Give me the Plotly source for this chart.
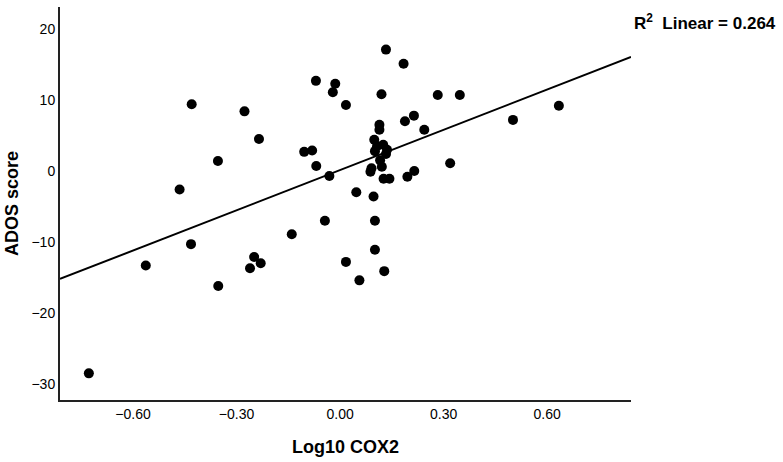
import plotly.graph_objects as go
import numpy as np

# Data (Log10 COX2 vs ADOS score)
log10_cox2 = [
    -0.728, -0.563, -0.465, -0.430, -0.432, -0.354, -0.353, -0.277, -0.235,
    -0.249, -0.261, -0.230, -0.140, -0.104, -0.081, -0.070, -0.069, -0.044,
    -0.031, -0.021, -0.014, 0.017, 0.017, 0.047, 0.056, 0.097, 0.101, 0.101,
    0.128, 0.114, 0.114, 0.120, 0.133, 0.184, 0.188, 0.214, 0.244, 0.283,
    0.347, 0.319, 0.501, 0.634, 0.099, 0.107, 0.125, 0.136, 0.101, 0.133,
    0.116, 0.091, 0.088, 0.121, 0.126, 0.143, 0.195, 0.215,
]
ados_score = [
    -28.5, -13.3, -2.6, 9.4, -10.3, 1.4, -16.2, 8.4, 4.5,
    -12.1, -13.7, -13.0, -8.9, 2.7, 2.9, 12.7, 0.7, -7.0,
    -0.7, 11.1, 12.3, 9.3, -12.8, -3.0, -15.4, -3.6, -7.0, -11.1,
    -14.1, 6.5, 5.8, 10.8, 17.1, 15.1, 7.0, 7.8, 5.8, 10.7,
    10.7, 1.1, 7.2, 9.2, 4.4, 3.5, 3.7, 3.0, 2.8, 2.4,
    1.5, 0.4, -0.1, 0.6, -1.1, -1.1, -0.8, 0.0,
]

# Linear fit line
fit_intercept = 0.14
fit_slope = 18.9
r2_label = "R<sup>2</sup>  Linear = 0.264"

x_range = [-0.8116, 0.843]
y_range = [-32.25, 23.1]
x_ticks = [-0.60, -0.30, 0.00, 0.30, 0.60]
y_ticks = [-30, -20, -10, 0, 10, 20]

line_x = np.array(x_range)
line_y = fit_intercept + fit_slope * line_x

FONT = "Liberation Sans, Arial, sans-serif"

fig = go.Figure()
fig.add_trace(go.Scatter(
    x=line_x, y=line_y, mode="lines",
    line=dict(color="black", width=2), hoverinfo="skip", showlegend=False,
))
fig.add_trace(go.Scatter(
    x=log10_cox2, y=ados_score, mode="markers",
    marker=dict(color="black", size=10, line=dict(width=0)),
    showlegend=False,
))

fig.update_layout(
    width=783, height=462,
    margin=dict(l=60, r=152, t=7, b=62),
    paper_bgcolor="white", plot_bgcolor="white",
    font=dict(family=FONT, color="black"),
    xaxis=dict(
        range=x_range, tickvals=x_ticks, tickformat=".2f",
        showgrid=False, zeroline=False, showline=True,
        linecolor="#222", linewidth=2, ticks="",
        tickfont=dict(size=14, family=FONT),
        title=dict(text="<b>Log10 COX2</b>", font=dict(size=18, family=FONT), standoff=20),
    ),
    yaxis=dict(
        range=y_range, tickvals=y_ticks,
        showgrid=False, zeroline=False, showline=True,
        linecolor="#222", linewidth=2, ticks="",
        tickfont=dict(size=14, family=FONT),
        title=dict(text="<b>ADOS score</b>", font=dict(size=18, family=FONT), standoff=8),
    ),
    annotations=[dict(
        text="<b>" + r2_label + "</b>", xref="paper", yref="paper",
        x=1.0, y=1.0, xshift=1, yshift=-15, xanchor="left", yanchor="middle",
        showarrow=False, font=dict(size=17, family=FONT, color="black"),
    )],
)

fig.write_html("out.html")
